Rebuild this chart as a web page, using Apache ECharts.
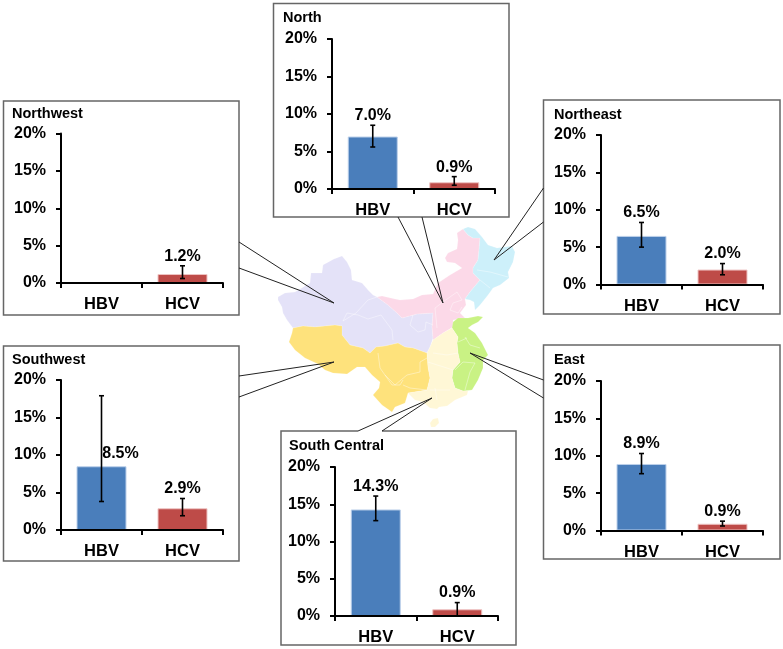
<!DOCTYPE html>
<html>
<head>
<meta charset="utf-8">
<style>html,body{margin:0;padding:0;background:#fff}#chart{width:783px;height:649px}</style>
<script src="https://cdn.jsdelivr.net/npm/echarts@6/dist/echarts.min.js"></script>
</head>
<body>
<div id="chart"></div>
<script>
// ---- data (percent) ----
const regionNames = ['North', 'Northwest', 'Northeast', 'Southwest', 'East', 'South Central'];
const categories = ['HBV', 'HCV'];
const tickValues = [0, 5, 10, 15, 20];
const hbvRates = [7.0, null, 6.5, 8.5, 8.9, 14.3];
const hcvRates = [0.9, 1.2, 2.0, 2.9, 0.9, 0.9];
const hbvLow   = [5.6, null, 5.0, 3.8, 7.6, 12.8];
const hbvHigh  = [8.5, null, 8.3, 17.9, 10.3, 16.1];
const hcvLow   = [0.5, 0.6, 1.3, 1.9, 0.6, 0.0];
const hcvHigh  = [1.65, 2.3, 2.8, 4.2, 1.25, 1.8];

// ---- panel layout (box, plot area, title, callout) ----
const panels = [
  {box:[273.5,3.5,509,217], plot:[332,39,163,150], title:[283,10], gap:[[422,217],[398,217]], tip:[443,303]},
  {box:[3.5,101,239,315], plot:[61,133.5,162,149.5], title:[12,106], gap:[[239,242],[239,268]], tip:[334,303]},
  {box:[543.5,100,780,314], plot:[601,135,162,149.5], title:[554,107], gap:[[543.5,222],[543.5,188]], tip:[494,260]},
  {box:[3.5,346,239,561], plot:[61,380,162,150], title:[12,352], gap:[[239,376],[239,397]], tip:[334,362]},
  {box:[543.5,345,780,559], plot:[601,381,162,149.5], title:[554,352], gap:[[543.5,398],[543.5,380]], tip:[470,353]},
  {box:[281,431,516,645], plot:[335,467,163,149], title:[289,438], gap:[[382,431],[358,431]], tip:[432,398]}
];
// the Southwest HBV label sits beside its error bar instead of above it
const labelShift = {'3-0': [19, 67]};

// ---- region outlines, in map units ----
const northwestOutline = [[278,297],[285,293],[295,292],[310,283],[311,273],[322,273],[323,265],[334,259],[342,256],[347,262],[351,270],[352,280],[362,283],[368,290],[373,295],[377,297],[388,305],[397,313],[402,318],[417,314],[433,313],[432,327],[433,338],[430,347],[427,353],[413,348],[405,347],[398,343],[385,346],[376,347],[370,353],[363,348],[350,345],[342,335],[342,326],[335,325],[315,327],[303,326],[293,328],[287,320],[283,313],[282,307],[278,300]];
const northOutline = [[377,297],[382,296],[395,299],[400,300],[413,299],[422,295],[433,294],[438,283],[450,275],[462,268],[455,263],[447,262],[445,258],[448,253],[457,249],[458,240],[457,233],[463,229],[468,235],[473,238],[480,238],[479,250],[478,260],[473,268],[473,273],[480,280],[470,292],[465,299],[466,305],[460,313],[465,318],[453,320],[453,327],[452,328],[443,333],[433,340],[433,338],[432,327],[433,313],[417,314],[402,318],[397,313],[388,305]];
const northeastOutline = [[463,229],[468,227],[475,229],[482,237],[488,245],[497,248],[512,246],[515,252],[513,262],[508,272],[509,278],[500,285],[493,288],[488,295],[480,305],[475,310],[474,302],[470,300],[465,299],[470,292],[480,280],[473,273],[473,268],[478,260],[479,250],[480,238],[473,238],[468,235]];
const southwestOutline = [[293,328],[303,326],[315,327],[335,325],[342,326],[342,335],[350,345],[363,348],[370,353],[376,347],[385,346],[398,343],[405,347],[413,348],[427,353],[428,367],[430,378],[427,390],[408,393],[405,403],[395,407],[392,412],[382,405],[373,395],[379,388],[380,382],[372,375],[365,367],[357,367],[347,374],[333,373],[325,370],[318,364],[305,358],[295,350],[289,342],[292,333]];
const eastOutline = [[453,322],[458,318],[468,318],[478,316],[483,317],[478,322],[472,325],[468,328],[475,333],[482,343],[488,355],[483,360],[483,368],[478,380],[472,390],[463,391],[455,388],[452,378],[453,370],[460,362],[458,353],[457,343],[458,337],[452,328]];
const southCentralOutline = [[452,328],[458,337],[457,343],[458,353],[460,362],[453,370],[452,378],[455,388],[463,391],[468,391],[467,395],[455,400],[447,406],[439,407],[437,409],[430,408],[423,402],[415,400],[408,393],[427,390],[430,378],[428,367],[427,353],[430,347],[433,340],[443,333]];
const hainanOutline = [[430,423],[433,419],[438,418],[439,423],[435,427],[431,427]];
const provinceLines = [
  [[343,321],[356,313],[368,300],[377,297]],
  [[343,321],[347,313],[358,315],[368,319],[381,315],[392,330],[393,340]],
  [[413,315],[410,325],[418,332],[425,330],[426,322],[433,325]],
  [[378,353],[380,368],[392,385],[400,385],[403,380]],
  [[385,375],[395,385],[407,375],[420,372],[420,362],[427,358]],
  [[403,385],[410,388],[427,390]],
  [[435,308],[443,302],[457,292],[462,300],[453,303],[450,310],[458,313],[462,307]],
  [[435,308],[437,328]],
  [[477,270],[490,272],[508,277]],
  [[480,280],[490,288]],
  [[465,337],[470,345],[480,348]],
  [[455,370],[463,362],[475,363]],
  [[465,390],[470,372],[475,363]],
  [[458,342],[467,338]],
  [[433,353],[447,355],[458,353]],
  [[428,362],[453,370]],
  [[430,390],[450,390]],
  [[435,388],[437,400]]
];
const mapRegions = [
  {name:'Northwest', color:'#e4e2f8', rings:[northwestOutline]},
  {name:'North', color:'#fcd9e8', rings:[northOutline]},
  {name:'Northeast', color:'#cdf0fa', rings:[northeastOutline]},
  {name:'Southwest', color:'#fee27c', rings:[southwestOutline]},
  {name:'East', color:'#c9f284', rings:[eastOutline]},
  {name:'South Central', color:'#fff7d6', rings:[southCentralOutline, hainanOutline]}
];

// ---- build ----
const FONT = '"Liberation Sans", Arial, sans-serif';
const toGeo = p => [p[0], -p[1]];
const closeRing = r => r.concat([r[0]]).map(toGeo);
echarts.registerMap('chinaRegions', {
  type: 'FeatureCollection',
  features: mapRegions.map(r => ({
    type: 'Feature', properties: {name: r.name},
    geometry: {type: 'MultiPolygon', coordinates: r.rings.map(x => [closeRing(x)])}
  }))
});
const allPts = mapRegions.flatMap(r => r.rings.flat());
const xs = allPts.map(p => p[0]), ys = allPts.map(p => p[1]);
const minX = Math.min(...xs), maxX = Math.max(...xs), minY = Math.min(...ys), maxY = Math.max(...ys);

const option = {
  animation: false, backgroundColor: '#fff',
  title: [], grid: [], xAxis: [], yAxis: [], series: [], graphic: [],
  geo: {
    map: 'chinaRegions', silent: true, roam: false, aspectScale: 1,
    left: minX, top: minY, width: maxX - minX, height: maxY - minY,
    label: {show: false},
    itemStyle: {borderColor: 'rgba(255,255,255,0.3)', borderWidth: 0.5},
    regions: mapRegions.map(r => ({name: r.name, itemStyle: {areaColor: r.color}}))
  }
};
option.series.push({
  type: 'lines', coordinateSystem: 'geo', polyline: true, silent: true, z: 1,
  lineStyle: {color: 'rgba(255,255,255,0.5)', width: 0.8, opacity: 1},
  data: provinceLines.map(l => ({coords: l.map(toGeo)}))
});

function errorRenderer(panelIndex) {
  return function (params, api) {
    const i = api.value(0);
    const low = api.coord([i, api.value(1)]);
    const high = api.coord([i, api.value(2)]);
    const x = low[0];
    const shift = labelShift[panelIndex + '-' + i] || [0, 0];
    const ln = (x1, y1, x2, y2) => ({
      type: 'line', shape: {x1, y1, x2, y2},
      style: {stroke: '#000', lineWidth: 1.6}
    });
    return {type: 'group', children: [
      ln(x, low[1], x, high[1]),
      ln(x - 2.5, low[1], x + 2.5, low[1]),
      ln(x - 2.5, high[1], x + 2.5, high[1]),
      {type: 'text', z2: 10, style: {
        text: api.value(3).toFixed(1) + '%', x: x + shift[0], y: high[1] - 9.5 + shift[1],
        textAlign: 'center', textVerticalAlign: 'middle', fill: '#000',
        font: 'bold 16px ' + FONT
      }}
    ]};
  };
}

panels.forEach((p, k) => {
  const [bx0, by0, bx1, by1] = p.box;
  option.title.push({
    text: regionNames[k], left: p.title[0], top: p.title[1], padding: 0,
    textStyle: {fontFamily: FONT, fontWeight: 'bold', fontSize: 14.5, color: '#000'}
  });
  option.grid.push({left: p.plot[0], top: p.plot[1], width: p.plot[2], height: p.plot[3], containLabel: false});
  option.xAxis.push({
    type: 'category', gridIndex: k, data: categories, z: 5,
    axisLine: {lineStyle: {color: '#000', width: 2}},
    axisTick: {show: true, length: 5, lineStyle: {color: '#000', width: 2}},
    axisLabel: {margin: 13, color: '#000', fontFamily: FONT, fontWeight: 'bold', fontSize: 16.5}
  });
  option.yAxis.push({
    type: 'value', gridIndex: k, min: tickValues[0], max: tickValues[tickValues.length - 1], interval: tickValues[1] - tickValues[0], z: 5,
    splitLine: {show: false},
    axisLine: {show: true, lineStyle: {color: '#000', width: 2}},
    axisTick: {show: true, length: 5, lineStyle: {color: '#000', width: 2}},
    axisLabel: {margin: 15, color: '#000', fontFamily: FONT, fontWeight: 'bold', fontSize: 16, formatter: '{value}%'}
  });
  option.series.push({
    type: 'bar', xAxisIndex: k, yAxisIndex: k, barWidth: 50, silent: true, z: 2,
    data: [
      {value: hbvRates[k], itemStyle: {color: '#4a7ebb', borderColor: '#bcd0ea', borderWidth: 1}},
      {value: hcvRates[k], itemStyle: {color: '#be4b48', borderColor: '#eec4c3', borderWidth: 1}}
    ]
  });
  const errs = [];
  if (hbvRates[k] !== null) errs.push([0, hbvLow[k], hbvHigh[k], hbvRates[k]]);
  if (hcvRates[k] !== null) errs.push([1, hcvLow[k], hcvHigh[k], hcvRates[k]]);
  option.series.push({
    type: 'custom', xAxisIndex: k, yAxisIndex: k, silent: true, z: 6, clip: false,
    renderItem: errorRenderer(k), data: errs
  });

  // callout box: outline with an opening at the gap, plus two leader lines
  const corners = [[bx0,by0],[bx1,by0],[bx1,by1],[bx0,by1]];
  const [g0, g1] = p.gap;
  let start;
  if (g0[1] === by1) start = 3;        // gap in bottom edge, heading left
  else if (g0[0] === bx1) start = 2;   // right edge, heading down
  else if (g0[0] === bx0) start = 0;   // left edge, heading up
  else start = 1;                      // top edge, heading right
  const path = [g0];
  for (let n = 0; n < 4; n++) path.push(corners[(start + n) % 4]);
  path.push(g1);
  option.graphic.push({type: 'polyline', z: 20, silent: true, shape: {points: path},
    style: {stroke: '#666', lineWidth: 1.5, fill: null}});
  [g0, g1].forEach(g => option.graphic.push({
    type: 'line', z: 21, silent: true,
    shape: {x1: g[0], y1: g[1], x2: p.tip[0], y2: p.tip[1]},
    style: {stroke: '#222', lineWidth: 1}
  }));
});

const chart = echarts.init(document.getElementById('chart'), null, {renderer: 'canvas', width: 783, height: 649});
chart.setOption(option);
</script>
</body>
</html>
